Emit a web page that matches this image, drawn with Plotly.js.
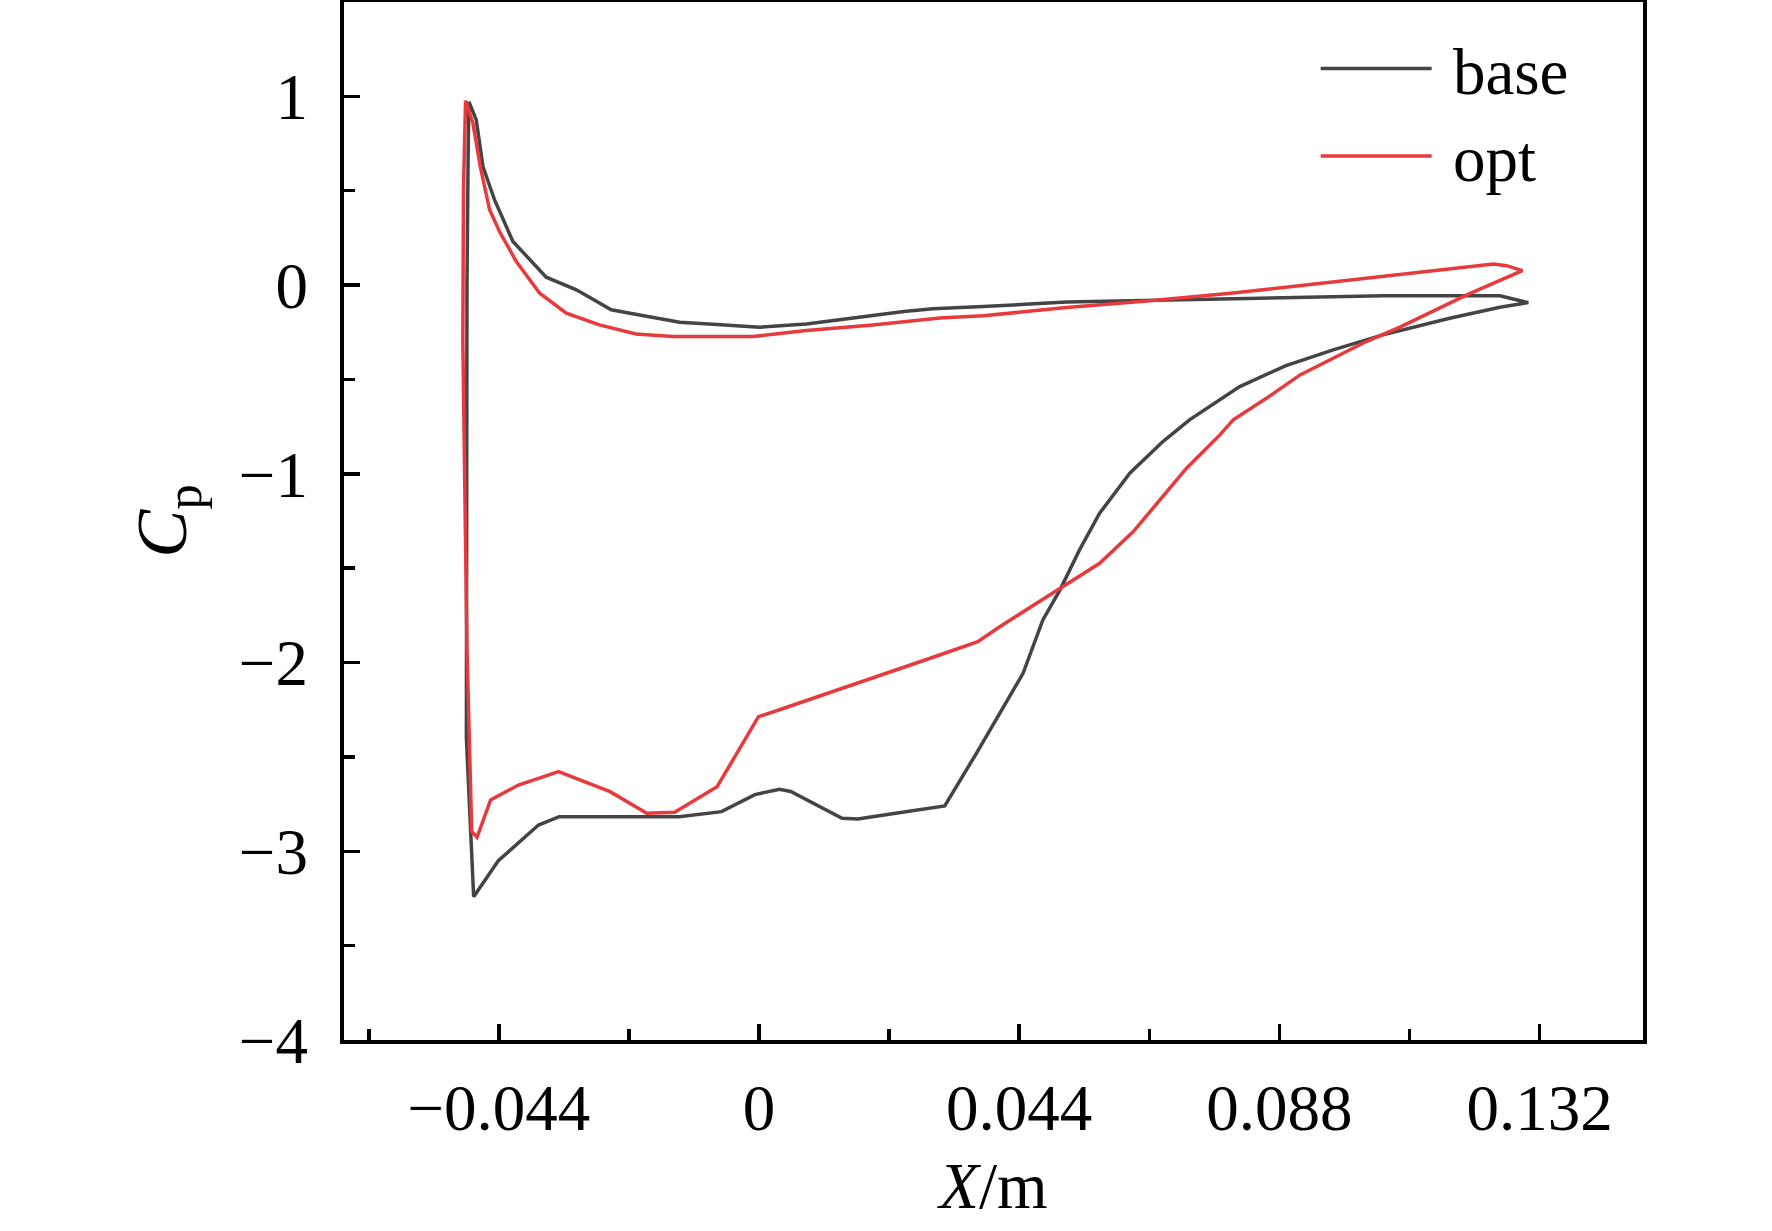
<!DOCTYPE html>
<html>
<head>
<meta charset="utf-8">
<script src="https://cdn.plot.ly/plotly-3.0.1.min.js"></script>
<style>html,body{margin:0;padding:0;background:#fff;}#chart{width:1772px;height:1231px;}</style>
</head>
<body>
<div id="chart"></div>
<script>
// base (loop from leading-edge peak, along upper branch to trailing edge, back along lower branch)
var baseX = [-0.04908,-0.04783,-0.0467,-0.04473,-0.04163,-0.0388,-0.036,-0.0309,-0.025,-0.0202,-0.01343,-0.0078,0.0001,0.008,0.01646,0.0245,0.0294,0.0379,0.052,0.0661,0.0802,0.0943,0.1055,0.1253,0.1275,0.1301,
  0.1253,0.1168,0.1055,0.0971,0.0890,0.0813,0.0728,0.0683,0.0627,0.0576,0.0542,0.0509,0.048,0.04465,0.03676,0.0314,0.02424,0.01668,0.01404,0.00535,0.00347,-0.0007,-0.00635,-0.0135,-0.0338,-0.0373,-0.0441,-0.04827,-0.0495,-0.0494,-0.0492,-0.04908];
var baseY = [0.972,0.875,0.628,0.451,0.231,0.134,0.042,-0.025,-0.131,-0.158,-0.197,-0.207,-0.223,-0.206,-0.170,-0.140,-0.126,-0.114,-0.089,-0.080,-0.071,-0.062,-0.057,-0.057,-0.075,-0.093,
  -0.117,-0.176,-0.264,-0.343,-0.428,-0.538,-0.714,-0.829,-0.997,-1.209,-1.403,-1.615,-1.774,-2.057,-2.481,-2.760,-2.793,-2.829,-2.825,-2.683,-2.671,-2.70,-2.79,-2.817,-2.817,-2.861,-3.05,-3.241,-2.4,0.0,0.7,0.972];
// opt
var optX = [-0.04964,-0.0484,-0.04715,-0.04558,-0.0439,-0.04106,-0.0371,-0.0326,-0.027,-0.0208,-0.01457,-0.001,0.008,0.01927,0.0306,0.0379,0.052,0.0661,0.0802,0.0943,0.1084,0.1225,0.1242,0.1264,0.1291,
  0.1197,0.1112,0.1084,0.1027,0.0943,0.0915,0.0858,0.0802,0.0779,0.0723,0.0678,0.0633,0.0576,0.0509,0.0452,0.0407,0.0370,0.03055,0.0042,-0.0001,-0.0071,-0.01428,-0.0190,-0.0252,-0.0339,-0.0407,-0.0454,-0.0477,-0.0486,-0.0494,-0.0501,-0.0500,-0.04964];
var optY = [0.978,0.858,0.628,0.399,0.284,0.125,-0.043,-0.149,-0.211,-0.259,-0.273,-0.273,-0.241,-0.211,-0.175,-0.163,-0.119,-0.083,-0.042,0.008,0.056,0.107,0.112,0.103,0.077,
  -0.052,-0.184,-0.223,-0.299,-0.432,-0.476,-0.600,-0.714,-0.795,-0.970,-1.138,-1.306,-1.474,-1.606,-1.721,-1.810,-1.889,-1.960,-2.242,-2.287,-2.658,-2.793,-2.799,-2.684,-2.578,-2.649,-2.728,-2.926,-2.896,-1.93,-0.3,0.5,0.978];

var seriesNames = ['base', 'opt'];
var xTickVals = [-0.044, 0, 0.044, 0.088, 0.132];
var xTickText = ['\u22120.044', '0', '0.044', '0.088', '0.132'];
var xMinorVals = [-0.066, -0.022, 0.022, 0.066, 0.110];
var yTickVals = [-4, -3, -2, -1, 0, 1];
var yTickText = ['\u22124', '\u22123', '\u22122', '\u22121', '0', '1'];
var yMinorVals = [-3.5, -2.5, -1.5, -0.5, 0.5];

var FONT = 'Liberation Serif, Times New Roman, serif';

var traces = [
  {x: baseX, y: baseY, mode: 'lines', name: '\u00A0' + seriesNames[0], line: {color: '#444444', width: 3.5}},
  {x: optX, y: optY, mode: 'lines', name: '\u00A0' + seriesNames[1], line: {color: '#e8393d', width: 3.5}}
];

var layout = {
  width: 1772, height: 1231,
  margin: {l: 344, r: 129, t: 2, b: 191, pad: 0},
  paper_bgcolor: '#ffffff', plot_bgcolor: '#ffffff',
  font: {family: FONT, size: 65, color: '#000'},
  showlegend: true,
  legend: {x: 0.748, y: 0.983, xanchor: 'left', yanchor: 'top', bgcolor: 'rgba(0,0,0,0)',
           font: {family: FONT, size: 65, color: '#000'}, itemwidth: 111, tracegroupgap: 0},
  xaxis: {
    range: [-0.0702, 0.1495], tickmode: 'array', tickvals: xTickVals, ticktext: xTickText,
    ticks: 'inside', ticklen: 16, tickwidth: 3.5, tickcolor: '#000',
    minor: {tickmode: 'array', tickvals: xMinorVals, ticks: 'inside', ticklen: 11, tickwidth: 3.5, tickcolor: '#000', showgrid: false},
    showline: true, linewidth: 4, linecolor: '#000', mirror: true,
    showgrid: false, zeroline: false, ticklabelstandoff: 8,
    tickfont: {family: FONT, size: 65, color: '#000'},
    title: {text: '<i>X</i>/m', font: {family: FONT, size: 65, color: '#000'}, standoff: 20}
  },
  yaxis: {
    range: [-4, 1.5], tickmode: 'array', tickvals: yTickVals, ticktext: yTickText,
    ticks: 'inside', ticklen: 16, tickwidth: 3.5, tickcolor: '#000',
    minor: {tickmode: 'array', tickvals: yMinorVals, ticks: 'inside', ticklen: 11, tickwidth: 3.5, tickcolor: '#000', showgrid: false},
    showline: true, linewidth: 4, linecolor: '#000', mirror: true,
    showgrid: false, zeroline: false, ticklabelstandoff: 19,
    tickfont: {family: FONT, size: 65, color: '#000'},
    title: {text: '<i>C</i><sub>p</sub>', font: {family: FONT, size: 72, color: '#000'}, standoff: 30}
  }
};

Plotly.newPlot('chart', traces, layout, {staticPlot: true, displayModeBar: false});
</script>
</body>
</html>
